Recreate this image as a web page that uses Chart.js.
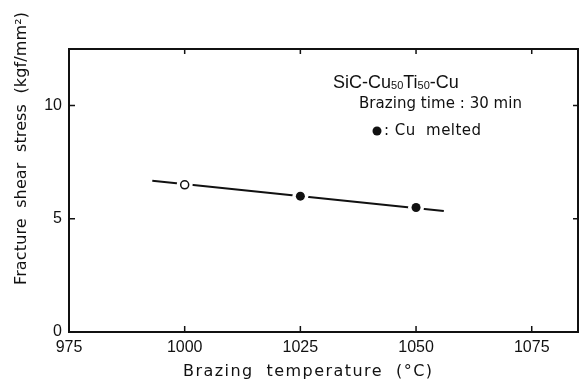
<!DOCTYPE html>
<html>
<head>
<meta charset="utf-8">
<script src="https://cdn.jsdelivr.net/npm/chart.js@4/dist/chart.umd.min.js"></script>
<style>
  html, body { margin: 0; padding: 0; background: #fff; }
  #wrap { width: 582px; height: 383px; }
</style>
</head>
<body>
<div id="wrap"><canvas id="chart" width="582" height="383"></canvas></div>
<script>
// Data
const openTemps = [1000];
const openStress = [6.5];
const meltedTemps = [1025, 1050];
const meltedStress = [6.0, 5.5];
// Fitted line drawn through the points
const fitTemps = [993, 1056];
const fitStress = [6.68, 5.34];

const xTicks = [975, 1000, 1025, 1050, 1075];
const yTicks = [0, 5, 10];

const INK = '#111';
const FONT = '"Liberation Sans", Arial, sans-serif';
const WIDE = '"DejaVu Sans", sans-serif';

function pts(xs, ys) {
  return xs.map((x, i) => ({ x: x, y: ys[i] }));
}

// Draw text stretched to a given width with letter spacing
function fitText(ctx, text, x, y, width, font) {
  ctx.font = font;
  ctx.letterSpacing = '0px';
  const w = ctx.measureText(text).width;
  const ls = (width - w) / Math.max(1, text.length - 1);
  ctx.letterSpacing = ls + 'px';
  ctx.fillText(text, x, y);
  ctx.letterSpacing = '0px';
}

// Frame, inward ticks, axis titles and the annotation block
const framePlugin = {
  id: 'frame',
  afterDraw(chart) {
    const ctx = chart.ctx;
    const a = chart.chartArea;
    const xs = chart.scales.x;
    const ys = chart.scales.y;
    ctx.save();
    ctx.strokeStyle = INK;
    ctx.lineWidth = 2;
    ctx.strokeRect(a.left, a.top, a.right - a.left, a.bottom - a.top);

    ctx.lineWidth = 1.5;
    ctx.beginPath();
    xTicks.forEach((v) => {
      const px = xs.getPixelForValue(v);
      ctx.moveTo(px, a.bottom);
      ctx.lineTo(px, a.bottom - 6);
      ctx.moveTo(px, a.top);
      ctx.lineTo(px, a.top + 5);
    });
    yTicks.forEach((v) => {
      const py = ys.getPixelForValue(v);
      ctx.moveTo(a.left, py);
      ctx.lineTo(a.left + 6, py);
      ctx.moveTo(a.right, py);
      ctx.lineTo(a.right - 5, py);
    });
    ctx.stroke();

    ctx.fillStyle = INK;
    ctx.textBaseline = 'middle';
    ctx.textAlign = 'left';

    // x title
    fitText(ctx, 'Brazing  temperature  (°C)', 183, 372, 249, '16px ' + WIDE);

    // y title
    ctx.save();
    ctx.translate(22, 285);
    ctx.rotate(-Math.PI / 2);
    fitText(ctx, 'Fracture  shear  stress  (kgf/mm²)', 0, 0, 273, '16px ' + WIDE);
    ctx.restore();

    // annotation: SiC-Cu50Ti50-Cu
    let x = 333;
    const yb = 88;
    ctx.textBaseline = 'alphabetic';
    const parts = [
      ['SiC-Cu', false], ['50', true], ['Ti', false], ['50', true], ['-Cu', false],
    ];
    parts.forEach(([t, sub]) => {
      ctx.font = sub ? '11px ' + FONT : '18px ' + FONT;
      ctx.fillText(t, x, sub ? yb + 1 : yb);
      x += ctx.measureText(t).width;
    });

    ctx.textBaseline = 'middle';
    fitText(ctx, 'Brazing time : 30 min', 359, 104, 163, '15px ' + WIDE);

    ctx.beginPath();
    ctx.arc(377, 131, 4.5, 0, Math.PI * 2);
    ctx.fill();
    fitText(ctx, ': Cu  melted', 384, 131, 97, '15px ' + WIDE);
    ctx.restore();
  },
};

const allTemps = openTemps.concat(meltedTemps);
const allStress = openStress.concat(meltedStress);

new Chart(document.getElementById('chart'), {
  type: 'scatter',
  data: {
    datasets: [
      {
        label: 'Open',
        data: pts(openTemps, openStress),
        pointRadius: 4,
        pointBackgroundColor: '#fff',
        pointBorderColor: INK,
        pointBorderWidth: 1.5,
        order: 0,
      },
      {
        label: 'Cu melted',
        data: pts(meltedTemps, meltedStress),
        pointRadius: 4.5,
        pointBackgroundColor: INK,
        pointBorderColor: INK,
        pointBorderWidth: 0,
        order: 0,
      },
      {
        label: 'halo',
        data: pts(allTemps, allStress),
        pointRadius: 8,
        pointBackgroundColor: '#fff',
        pointBorderWidth: 0,
        order: 1,
      },
      {
        label: 'Fit',
        data: pts(fitTemps, fitStress),
        showLine: true,
        borderColor: INK,
        borderWidth: 2,
        pointRadius: 0,
        order: 2,
      },
    ],
  },
  options: {
    responsive: false,
    animation: false,
    events: [],
    layout: {
      autoPadding: false,
      padding: { top: 49, right: 4, left: 0, bottom: 0 },
    },
    plugins: {
      legend: { display: false },
      tooltip: { enabled: false },
    },
    scales: {
      x: {
        type: 'linear',
        min: 975,
        max: 1085,
        afterBuildTicks: (s) => { s.ticks = xTicks.map((v) => ({ value: v })); },
        afterFit: (s) => {
          s.height = 51;
          s.paddingLeft = 0;
          s.paddingRight = 0;
        },
        grid: { display: false, drawTicks: false },
        border: { display: false },
        ticks: {
          color: INK,
          padding: 6,
          font: { family: FONT, size: 16 },
          callback: (v) => String(v),
        },
      },
      y: {
        type: 'linear',
        min: 0,
        max: 12.5,
        afterBuildTicks: (s) => { s.ticks = yTicks.map((v) => ({ value: v })); },
        afterFit: (s) => { s.width = 69; },
        grid: { display: false, drawTicks: false },
        border: { display: false },
        ticks: {
          color: INK,
          padding: 7,
          font: { family: FONT, size: 16 },
          callback: (v) => String(v),
        },
      },
    },
  },
  plugins: [framePlugin],
});
</script>
</body>
</html>
